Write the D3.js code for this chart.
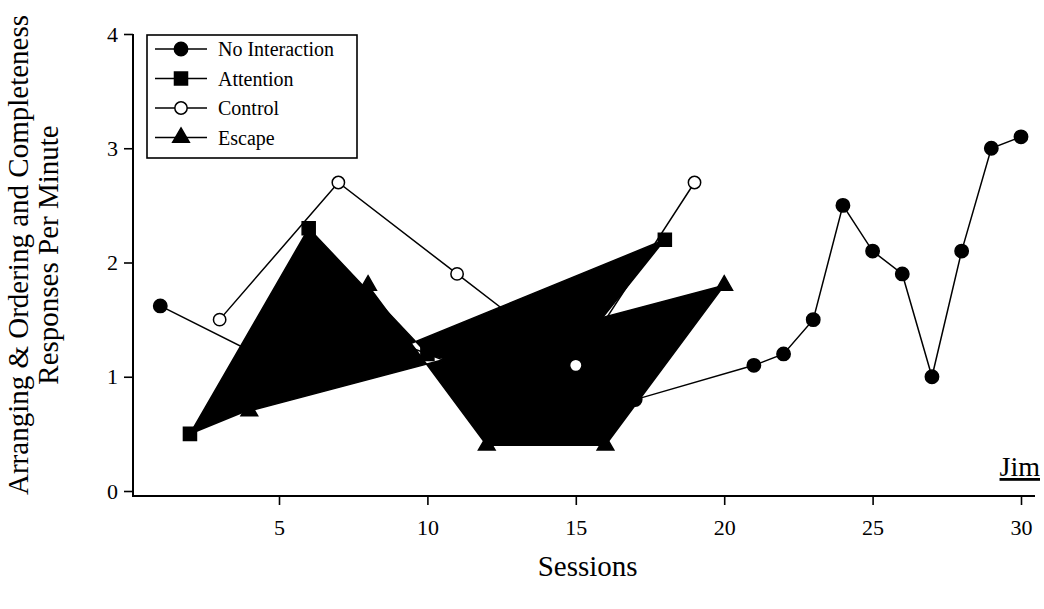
<!DOCTYPE html>
<html>
<head>
<meta charset="utf-8">
<script src="https://cdn.jsdelivr.net/npm/d3@7"></script>
<style>
  html, body { margin: 0; padding: 0; background: #fff; }
  svg { display: block; }
  text { font-family: "Liberation Serif", "Times New Roman", serif; fill: #000; }
</style>
</head>
<body>
<svg id="chart" width="1044" height="609"></svg>
<script>
// Session numbers and response rates for each condition
const noInteractionSessions = [1, 5, 9, 13, 17, 21, 22, 23, 24, 25, 26, 27, 28, 29, 30];
const noInteractionValues   = [1.62, 1.1, 1.3, 0.9, 0.8, 1.1, 1.2, 1.5, 2.5, 2.1, 1.9, 1.0, 2.1, 3.0, 3.1];

const attentionSessions = [2, 6, 10, 14, 18];
const attentionValues   = [0.5, 2.3, 1.2, 0.9, 2.2];

const controlSessions = [3, 7, 11, 15, 19];
const controlValues   = [1.5, 2.7, 1.9, 1.1, 2.7];

const escapeSessions = [4, 8, 12, 16, 20];
const escapeValues   = [0.7, 1.8, 0.4, 0.4, 1.8];

const xTicks = [5, 10, 15, 20, 25, 30];
const yTicks = [0, 1, 2, 3, 4];

const legendLabels = ["No Interaction", "Attention", "Control", "Escape"];
const participant = "Jim";
const xTitle = "Sessions";
const yTitleLines = ["Arranging & Ordering and Completeness", "Responses Per Minute"];

const zip = (s, v) => s.map((d, i) => ({ s: d, v: v[i] }));

const svg = d3.select("#chart");

const x = d3.scaleLinear().domain([0, 30]).range([130.6, 1021]);
const y = d3.scaleLinear().domain([0, 4]).range([491, 34]);

const axisX0 = 133, axisY0 = 496, axisX1 = 1035;

// Y axis
const gy = svg.append("g")
  .attr("transform", `translate(${axisX0},0)`)
  .call(d3.axisLeft(y).tickValues(yTicks).tickSize(9).tickPadding(6).tickFormat(d3.format("d")));
gy.select(".domain").remove();
gy.selectAll(".tick line").attr("stroke", "#000").attr("stroke-width", 1.6);
gy.selectAll(".tick text").style("font-size", "22px").style("font-family", "Liberation Serif");

// X axis
const gx = svg.append("g")
  .attr("transform", `translate(0,${axisY0})`)
  .call(d3.axisBottom(x).tickValues(xTicks).tickSize(9).tickPadding(14).tickFormat(d3.format("d")));
gx.select(".domain").remove();
gx.selectAll(".tick line").attr("stroke", "#000").attr("stroke-width", 1.6);
gx.selectAll(".tick text").style("font-size", "22px").style("font-family", "Liberation Serif");

// Axis lines meeting at the lower-left corner
svg.append("path")
  .attr("d", `M${axisX0},${y(4)}V${axisY0}H${axisX1}`)
  .attr("fill", "none").attr("stroke", "#000").attr("stroke-width", 2);

// Axis titles
svg.append("text")
  .attr("x", x(15.4)).attr("y", 576)
  .attr("text-anchor", "middle")
  .style("font-size", "29px")
  .text(xTitle);

const yTitle = svg.append("text")
  .attr("transform", "translate(28,255) rotate(-90)")
  .attr("text-anchor", "middle")
  .style("font-size", "29px");
yTitleLines.forEach((t, i) => {
  yTitle.append("tspan").attr("x", 0).attr("dy", i === 0 ? 0 : 30).text(t);
});

const line = d3.line().x(d => x(d.s)).y(d => y(d.v));

const attention = zip(attentionSessions, attentionValues);
const escape = zip(escapeSessions, escapeValues);
const control = zip(controlSessions, controlValues);
const noInt = zip(noInteractionSessions, noInteractionValues);

// Attention and Escape traces render as closed, filled outlines
[attention, escape].forEach(data => {
  svg.append("path")
    .attr("d", line(data) + "Z")
    .attr("fill", "#000")
    .attr("stroke", "#000")
    .attr("stroke-width", 1.5)
    .attr("stroke-linejoin", "miter");
});

// Open line traces
[noInt, control].forEach(data => {
  svg.append("path")
    .attr("d", line(data))
    .attr("fill", "none")
    .attr("stroke", "#000")
    .attr("stroke-width", 1.5);
});

const symbols = {
  noInt:     { type: d3.symbolCircle,   size: 140, fill: "#000" },
  attention: { type: d3.symbolSquare,   size: 170, fill: "#000" },
  control:   { type: d3.symbolCircle,   size: 120, fill: "#fff" },
  escape:    { type: d3.symbolTriangle, size: 120, fill: "#000" }
};

function drawMarkers(data, key) {
  const sym = symbols[key];
  svg.append("g").selectAll("path")
    .data(data).join("path")
    .attr("transform", d => `translate(${x(d.s)},${y(d.v)})`)
    .attr("d", d3.symbol().type(sym.type).size(sym.size))
    .attr("fill", sym.fill)
    .attr("stroke", "#000")
    .attr("stroke-width", 1.5);
}
drawMarkers(noInt, "noInt");
drawMarkers(attention, "attention");
drawMarkers(escape, "escape");
drawMarkers(control, "control");

// Legend
const legend = svg.append("g");
legend.append("rect")
  .attr("x", 147).attr("y", 35).attr("width", 210).attr("height", 123)
  .attr("fill", "#fff").attr("stroke", "#000").attr("stroke-width", 1.6);
const legendKeys = ["noInt", "attention", "control", "escape"];
legendLabels.forEach((label, i) => {
  const ry = 49 + i * 29.5;
  const sym = symbols[legendKeys[i]];
  legend.append("line")
    .attr("x1", 155).attr("x2", 207).attr("y1", ry).attr("y2", ry)
    .attr("stroke", "#000").attr("stroke-width", 1.5);
  legend.append("path")
    .attr("transform", `translate(181,${ry})`)
    .attr("d", d3.symbol().type(sym.type).size(sym.size))
    .attr("fill", sym.fill).attr("stroke", "#000").attr("stroke-width", 1.5);
  legend.append("text")
    .attr("x", 218).attr("y", ry + 7)
    .style("font-size", "20px")
    .text(label);
});

// Participant label
svg.append("text")
  .attr("x", 1040).attr("y", 476)
  .attr("text-anchor", "end")
  .style("font-size", "28px")
  .style("text-decoration", "underline")
  .text(participant);
</script>
</body>
</html>
